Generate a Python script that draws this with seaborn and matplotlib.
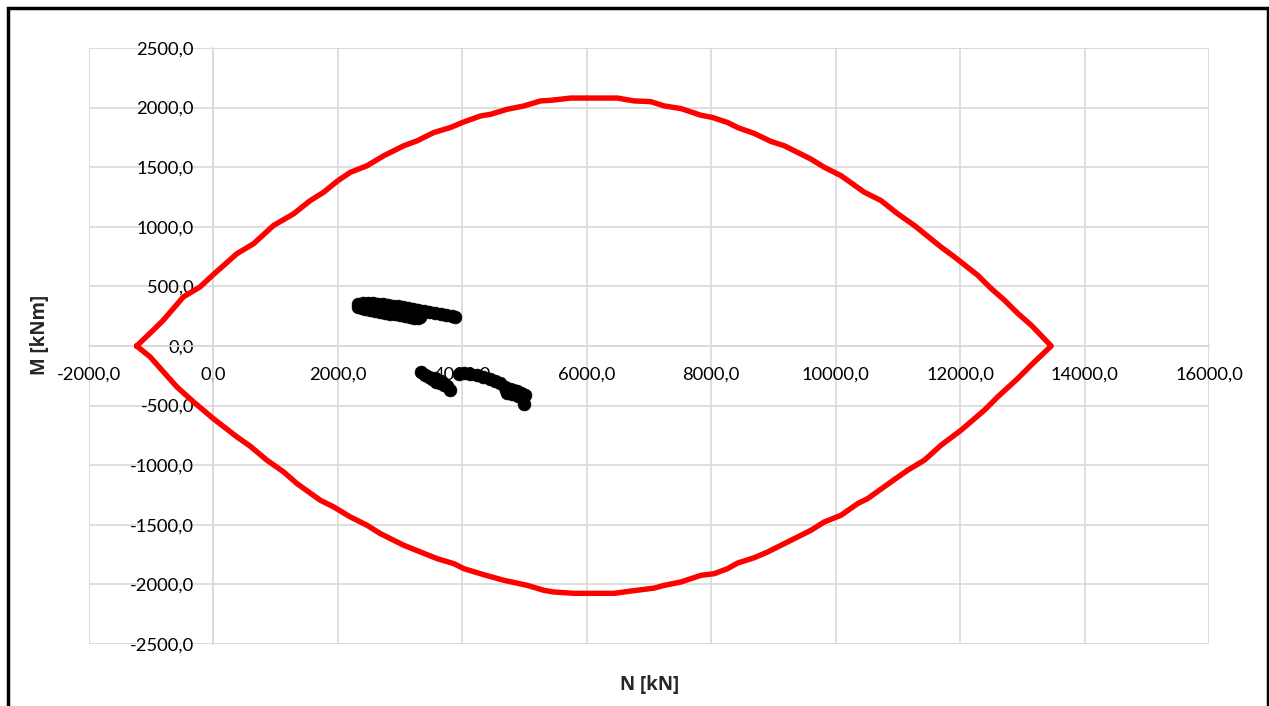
import numpy as np
import pandas as pd
import matplotlib
matplotlib.use("Agg")
import matplotlib.pyplot as plt
from matplotlib.patches import Rectangle
import seaborn as sns

# Interaction diagram (capacity curve) - upper branch, left to right
upper_N = [-1234, -966, -805, -483, -215, 0, 376, 644, 966, 1288, 1556, 1771, 2000, 2200,
           2468, 2737, 3059, 3273, 3542, 3810, 4000, 4293, 4454, 4722, 4990, 5258, 5419,
           5741, 6000, 6493, 6761, 7029, 7244, 7512, 7834, 8021, 8263, 8424, 8692, 8960,
           9174, 9603, 9818, 10086, 10461, 10729, 10997, 11265, 11694, 11909, 12284,
           12499, 12713, 12928, 13142, 13464]
upper_M = [0, 134, 217, 412, 496, 600, 774, 858, 1011, 1109, 1220, 1290, 1387, 1457,
           1512, 1596, 1680, 1721, 1791, 1833, 1875, 1930, 1944, 1986, 2014, 2056, 2061,
           2080, 2080, 2080, 2056, 2050, 2014, 1992, 1936, 1917, 1875, 1833, 1783, 1716,
           1680, 1568, 1499, 1429, 1290, 1220, 1109, 1011, 830, 747, 593,
           482, 384, 273, 175, 0]

# Lower branch, left to right
lower_N = [-1234, -1020, -805, -590, -322, 0, 376, 590, 859, 1127, 1342, 1717, 1932, 2200,
           2468, 2683, 3059, 3327, 3595, 3864, 4025, 4347, 4669, 5044, 5312, 5473, 5800,
           6440, 6708, 7083, 7244, 7512, 7834, 8048, 8263, 8424, 8692, 8907, 9282, 9603,
           9818, 10086, 10354, 10515, 10890, 11158, 11426, 11694, 12016, 12391, 12606,
           12928, 13142, 13464]
lower_M = [0, -90, -216, -342, -468, -610, -762, -840, -958, -1056, -1154, -1294, -1350,
           -1434, -1504, -1574, -1672, -1728, -1784, -1826, -1868, -1919, -1966, -2008,
           -2050, -2064, -2075, -2075, -2056, -2031, -2008, -1980, -1924, -1910, -1868,
           -1821, -1776, -1728, -1630, -1546, -1476, -1420, -1322, -1280, -1140, -1042,
           -958, -832, -706, -538, -426, -272, -160, 0]

# Load combinations (N, M)
load_N = [2330, 2400, 2480, 2560, 2640, 2720, 2800, 2880, 2960, 3040, 3120, 3200, 3290,
          3380, 3470, 3560, 3650, 3740, 3830, 3880,
          2330, 2380, 2440, 2520, 2600, 2680, 2760, 2840, 2920, 3000, 3080, 3160, 3220,
          3280, 3320,
          3340, 3400, 3460, 3520, 3580, 3640, 3700, 3750, 3807, 3941, 4021, 4120, 4236,
          4340, 4450, 4530, 4610, 4680, 4718, 4760, 4820, 4878, 4940, 5012, 4985,
          3560, 3680, 4700, 4800, 4900]
load_M = [350, 358, 360, 360, 356, 352, 345, 338, 332, 325, 318, 310, 302,
          295, 288, 280, 272, 262, 252, 245,
          330, 318, 310, 302, 295, 288, 280, 272, 265, 258, 250, 243, 235,
          232, 240,
          -218, -240, -262, -280, -298, -312, -325, -335, -372, -238, -224, -232, -243,
          -260, -280, -292, -308, -340, -392, -360, -372, -377, -392, -410, -489,
          -270, -300, -370, -400, -420]

curve = pd.DataFrame({
    "N": upper_N + lower_N[::-1],
    "M": upper_M + lower_M[::-1],
})
loads = pd.DataFrame({"N": load_N, "M": load_M})

sns.set_style("white")
plt.rcParams["font.family"] = ["Lato", "DejaVu Sans"]

fig = plt.figure(figsize=(12.69, 7.06), dpi=100)
ax = fig.add_axes([89 / 1269, 1 - 644 / 706, 1120 / 1269, 596 / 706])

sns.lineplot(data=curve, x="N", y="M", sort=False, estimator=None, color="#ff0000",
             linewidth=3.9, ax=ax, zorder=3)
sns.scatterplot(data=loads, x="N", y="M", color="black", s=85, edgecolor="black",
                linewidth=0.5, ax=ax, zorder=4)

ax.set_xlim(-2000, 16000)
ax.set_ylim(-2500, 2500)
xt = np.arange(-2000, 16001, 2000)
yt = np.arange(-2500, 2501, 500)
ax.set_xticks(xt)
ax.set_yticks(yt)
fmt = lambda v: f"{v:.1f}".replace(".", ",")
ax.set_xticklabels([fmt(v) for v in xt])
ax.set_yticklabels([fmt(v) for v in yt])

ax.grid(True, color="#d9d9d9", linewidth=1.2, zorder=0)
ax.set_axisbelow(True)
for s in ["top", "right"]:
    ax.spines[s].set_visible(False)
ax.spines["left"].set_position(("data", 0))
ax.spines["bottom"].set_position(("data", 0))
for s in ["left", "bottom"]:
    ax.spines[s].set_color("#d9d9d9")
    ax.spines[s].set_linewidth(1.2)
ax.tick_params(axis="both", length=0, labelsize=13.2, colors="#000000")
ax.tick_params(axis="y", pad=14)
ax.tick_params(axis="x", pad=15)
ax.add_patch(Rectangle((0, 0), 1, 1, transform=ax.transAxes, fill=False,
                       edgecolor="#d9d9d9", linewidth=1.2, zorder=0.5))

ax.set_xlabel("")
ax.set_ylabel("")
fig.text(650 / 1269, 1 - 685 / 706, "N [kN]", ha="center", va="center",
         fontsize=13.5, fontweight="bold", family=["Open Sans", "DejaVu Sans"])
fig.text(40 / 1269, 1 - 335 / 706, "M [kNm]", ha="center", va="center",
         fontsize=13.5, fontweight="bold", rotation=90,
         family=["Open Sans", "DejaVu Sans"])

# outer chart border
fig.patches.append(Rectangle((8 / 1269, -0.02), 1259.5 / 1269, 1 - 8 / 706 + 0.02,
                             transform=fig.transFigure, fill=False,
                             edgecolor="black", linewidth=2.5))

fig.savefig("out.png", dpi=100)
